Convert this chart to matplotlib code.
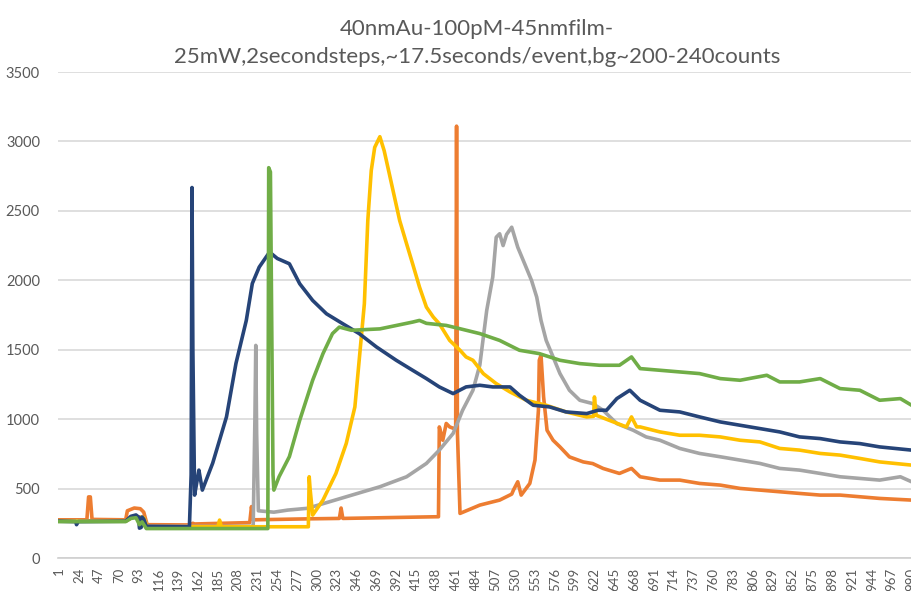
import matplotlib
matplotlib.use("Agg")
import matplotlib.pyplot as plt

plt.rcParams["font.family"] = ["Lato", "DejaVu Sans"]

TITLE = "40nmAu-100pM-45nmfilm-\n25mW,2secondsteps,~17.5seconds/event,bg~200-240counts"

# frame number (x) and counts (y) for each trace
ORANGE_X = [1, 33, 35, 37, 39, 78, 80, 88, 95, 99, 103, 152, 156, 158, 222, 224, 226,
            290, 326, 328, 330, 438, 441, 442, 446, 450, 454, 460, 461, 462, 463, 466,
            489, 512, 526, 528, 533, 537, 547, 553, 557, 558, 560, 563, 567, 574, 582,
            593, 609, 620, 632, 651, 665, 675, 698, 721, 744, 768, 791, 814, 837, 860,
            884, 907, 930, 953, 990]
ORANGE_Y = [275, 275, 440, 440, 278, 275, 340, 360, 355, 330, 240, 238, 250, 245, 255, 370, 275,
            282, 285, 360, 285, 297, 297, 944, 848, 969, 944, 930, 950, 3110, 900, 321,
            381, 417, 460, 489, 549, 453, 537, 705, 1064, 1424, 1460, 1160, 920, 848, 800,
            728, 692, 680, 645, 609, 645, 585, 561, 561, 537, 525, 501, 489, 477, 465,
            453, 453, 441, 429, 417]

GRAY_X = [1, 78, 88, 99, 103, 226, 228, 229, 230, 232, 250, 266, 291, 295, 334, 373,
          404, 427, 442, 458, 469, 481, 489, 497, 504, 508, 512, 516, 520, 526, 533, 541,
          549, 555, 560, 566, 574, 582, 593, 605, 620, 632, 648, 667, 682, 698, 721, 744,
          768, 791, 814, 837, 860, 884, 907, 930, 953, 977, 990]
GRAY_Y = [268, 268, 300, 290, 228, 228, 1000, 1531, 900, 340, 330, 345, 359, 369, 441, 513,
          585, 681, 777, 897, 1064, 1208, 1390, 1783, 2023, 2310, 2335, 2250, 2330, 2382, 2238, 2119,
          1999, 1879, 1711, 1567, 1448, 1328, 1208, 1136, 1112, 1064, 968, 920, 872, 848, 789, 753,
          729, 705, 681, 645, 633, 609, 585, 573, 561, 585, 549]

YELLOW_X = [1, 78, 88, 99, 103, 185, 187, 189, 290, 291, 292, 295, 307, 322, 334, 344,
            349, 355, 359, 363, 367, 373, 378, 384, 390, 396, 404, 411, 419, 427, 435, 442,
            454, 466, 473, 481, 493, 508, 524, 543, 566, 589, 613, 621, 622, 624, 644, 659,
            665, 671, 675, 698, 721, 744, 768, 791, 814, 837, 860, 884, 907, 930, 953, 990]
YELLOW_Y = [265, 265, 300, 290, 225, 225, 273, 225, 225, 585, 500, 309, 417, 609, 825, 1088,
            1424, 1831, 2430, 2790, 2957, 3034, 2933, 2766, 2598, 2430, 2263, 2119, 1951, 1807, 1735, 1687,
            1567, 1496, 1448, 1424, 1328, 1256, 1196, 1136, 1100, 1052, 1016, 1020, 1160, 1028, 980, 944,
            1016, 944, 944, 908, 884, 884, 872, 848, 836, 789, 777, 753, 741, 717, 692, 669]

BLUE_X = [1, 20, 21, 23, 78, 84, 90, 93, 94, 96, 97, 99, 102, 152, 154, 155, 156, 158,
          161, 163, 167, 179, 195, 206, 218, 225, 233, 245, 254, 268, 280, 295, 311, 330,
          349, 369, 392, 411, 427, 442, 458, 473, 489, 504, 524, 535, 551, 570, 589, 613,
          626, 636, 648, 663, 675, 698, 721, 744, 768, 791, 814, 837, 860, 884, 907, 930,
          953, 990]
BLUE_Y = [265, 262, 240, 262, 265, 300, 310, 295, 215, 220, 295, 280, 228, 225, 600, 2668, 1500, 453,
          560, 633, 489, 683, 1016, 1401, 1711, 1977, 2095, 2203, 2157, 2119, 1975, 1855, 1759, 1687,
          1616, 1520, 1424, 1352, 1292, 1232, 1184, 1232, 1244, 1232, 1232, 1172, 1100, 1088, 1052, 1040,
          1064, 1064, 1148, 1208, 1136, 1064, 1052, 1016, 980, 956, 932, 908, 872, 860, 836, 824,
          800, 777]

GREEN_X = [1, 78, 84, 90, 94, 97, 102, 243, 244, 246, 249, 250, 256, 268, 280, 295,
           307, 318, 326, 340, 373, 411, 419, 427, 450, 466, 489, 512, 535, 558, 582, 605,
           628, 651, 665, 675, 698, 721, 744, 768, 791, 822, 837, 860, 884, 907, 930, 953,
           977, 990]
GREEN_Y = [262, 262, 285, 290, 240, 260, 212, 212, 2811, 2780, 600, 489, 585, 730, 992, 1280,
           1472, 1616, 1663, 1640, 1650, 1699, 1711, 1690, 1675, 1651, 1616, 1567, 1496, 1472, 1424, 1400,
           1388, 1388, 1448, 1364, 1352, 1340, 1328, 1292, 1280, 1316, 1268, 1268, 1292, 1220, 1208, 1136,
           1148, 1100]

SERIES = [
    (ORANGE_X, ORANGE_Y, "#ED7D31"),
    (GRAY_X, GRAY_Y, "#A5A5A5"),
    (YELLOW_X, YELLOW_Y, "#FFC000"),
    (BLUE_X, BLUE_Y, "#264478"),
    (GREEN_X, GREEN_Y, "#70AD47"),
]

X_TICKS = list(range(1, 991, 23))
Y_TICKS = [0, 500, 1000, 1500, 2000, 2500, 3000, 3500]

TEXT = "#595959"

fig = plt.figure(figsize=(9.12, 5.91), dpi=100)
ax = fig.add_axes([58 / 912, 33 / 591, 1 - 58 / 912, 486 / 591])

for xs, ys, c in SERIES:
    ax.plot(xs, ys, color=c, lw=2.6, solid_joinstyle="round")

ax.set_xlim(-0.5, 990.5)
ax.set_ylim(0, 3500)
ax.set_yticks(Y_TICKS)
ax.set_xticks(X_TICKS)
ax.set_xticklabels([str(t) for t in X_TICKS], rotation=90, va="top")
ax.tick_params(axis="x", length=0, pad=7, labelsize=9.5, labelcolor=TEXT)
ax.tick_params(axis="y", length=0, pad=13, labelsize=10.5, labelcolor=TEXT)
ax.yaxis.grid(True, color="#D9D9D9", lw=1.2)
ax.set_axisbelow(True)
for side in ("top", "right", "left"):
    ax.spines[side].set_visible(False)
ax.spines["bottom"].set_color("#CFCFCF")
ax.spines["bottom"].set_linewidth(1.2)

fig.text(0.523, 1 - 43 / 591, TITLE, ha="center", va="center", fontsize=16,
         color=TEXT, linespacing=1.45)

fig.savefig("out.png", dpi=100)
